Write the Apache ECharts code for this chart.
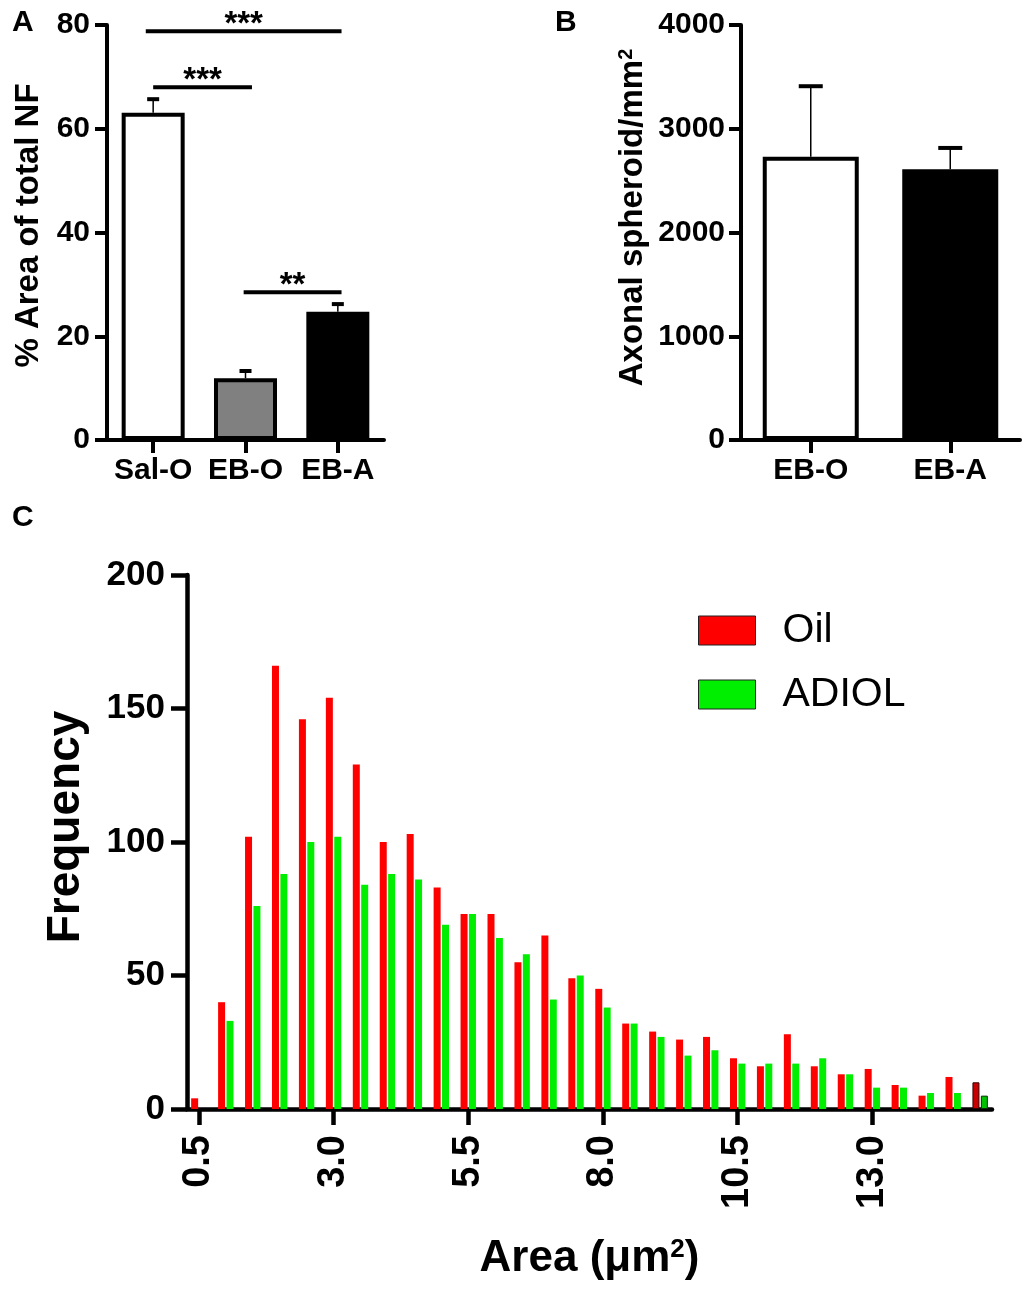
<!DOCTYPE html>
<html>
<head>
    <meta charset="utf-8">
    <title>Axonal damage</title>
    <script src="https://cdn.jsdelivr.net/npm/echarts@6/dist/echarts.min.js"></script>
    <style>
        * {
            margin: 0;
            padding: 0
        }

        #main {
            width: 1032px;
            height: 1300px;
            background: #fff;
        }
    </style>
</head>
<body>
<div id="main"></div>
<script type="text/javascript">
    /*---------- A: % area of total NF ----------*/
    var groupsA = ['Sal-O', 'EB-O', 'EB-A'];
    var meansA = [63.1, 11.9, 24.7];
    var semA = [2.6, 1.4, 1.5];
    // significance bars (position in category units, height in axis units)
    var sigFrom = [-0.08, 0.0, 0.98];
    var sigTo = [2.04, 1.07, 2.04];
    var sigY = [78.8, 68.0, 28.5];
    var sigText = ['***', '***', '**'];

    /*---------- B: axonal spheroids ----------*/
    var groupsB = ['EB-O', 'EB-A'];
    var meansB = [2730, 2610];
    var semB = [680, 205];

    /*---------- C: area histogram ----------*/
    var bins = [0.5, 1.0, 1.5, 2.0, 2.5, 3.0, 3.5, 4.0, 4.5, 5.0, 5.5, 6.0, 6.5, 7.0, 7.5,
        8.0, 8.5, 9.0, 9.5, 10.0, 10.5, 11.0, 11.5, 12.0, 12.5, 13.0, 13.5, 14.0, 14.5, 15.0];
    var oil = [4, 40, 102, 166, 146, 154, 129, 100, 103, 83, 73, 73, 55, 65, 49,
        45, 32, 29, 26, 27, 19, 16, 28, 16, 13, 15, 9, 5, 12, 10];
    var adiol = [0, 33, 76, 88, 100, 102, 84, 88, 86, 69, 73, 64, 58, 41, 50,
        38, 32, 27, 20, 22, 17, 17, 17, 19, 13, 8, 8, 6, 6, 5];
    var xTicksC = [0.5, 3.0, 5.5, 8.0, 10.5, 13.0];

    var FONT = '"Liberation Sans", Arial, sans-serif';
    var colorsA = ['#ffffff', '#808080', '#000000'];
    var colorsB = ['#ffffff', '#000000'];

    function plain(v) {
        return String(v);
    }

    function axisStyle(extra) {
        var o = {
            axisLine: {show: true, onZero: false, lineStyle: {color: '#000', width: 4}},
            axisTick: {show: true, length: 12, lineStyle: {color: '#000', width: 4}},
            axisLabel: {color: '#000', fontFamily: FONT, fontWeight: 'bold', fontSize: 30, formatter: plain},
            splitLine: {show: false},
            nameMoveOverlap: false
        };
        for (var k in extra) o[k] = extra[k];
        return o;
    }

    // error bar drawn from mean up to mean + sem
    function errorBars(capHalf) {
        return function (params, api) {
            var base = api.coord([api.value(0), api.value(1)]);
            var top = api.coord([api.value(0), api.value(1) + api.value(2)]);
            return {
                type: 'group',
                children: [
                    {type: 'line', shape: {x1: base[0], y1: base[1], x2: top[0], y2: top[1]},
                        style: {stroke: '#000', lineWidth: 1.5}},
                    {type: 'line', shape: {x1: top[0] - capHalf, y1: top[1], x2: top[0] + capHalf, y2: top[1]},
                        style: {stroke: '#000', lineWidth: 4}}
                ]
            };
        };
    }

    var barsA = meansA.map(function (v, i) {
        return {value: v, itemStyle: {color: colorsA[i]}};
    });
    var barsB = meansB.map(function (v, i) {
        return {value: v, itemStyle: {color: colorsB[i]}};
    });
    var errA = meansA.map(function (v, i) { return [i, v, semA[i]]; });
    var errB = meansB.map(function (v, i) { return [i, v, semB[i]]; });
    var sigData = sigY.map(function (y, i) { return [sigFrom[i], sigTo[i], y]; });

    var oilData = bins.map(function (b, i) { return [b, oil[i]]; });
    var adiolData = bins.map(function (b, i) { return [b, adiol[i]]; });
    // last bin is drawn darker with an outline in the figure
    var last = bins.length - 1;
    oilData[last] = {value: oilData[last], itemStyle: {color: '#c80000', borderColor: '#300', borderWidth: 1}};
    adiolData[last] = {value: adiolData[last], itemStyle: {color: '#00c000', borderColor: '#030', borderWidth: 1}};

    var panelLabel = {fontFamily: FONT, fontWeight: 'bold', fontSize: 30, color: '#000'};

    var myChart = echarts.init(document.getElementById('main'));
    myChart.setOption({
        animation: false,
        backgroundColor: '#fff',
        title: [
            {text: 'A', left: 12, top: 8, padding: 0, textStyle: panelLabel},
            {text: 'B', left: 555, top: 8, padding: 0, textStyle: panelLabel},
            {text: 'C', left: 12, top: 503, padding: 0, textStyle: panelLabel}
        ],
        legend: {
            data: ['Oil', 'ADIOL'],
            orient: 'vertical',
            left: 693,
            top: 605,
            icon: 'rect',
            itemWidth: 57,
            itemHeight: 29,
            itemGap: 23,
            itemStyle: {borderColor: '#222', borderWidth: 1},
            textStyle: {fontFamily: FONT, fontSize: 41, lineHeight: 40, color: '#000', padding: [0, 0, 0, 22]}
        },
        grid: [
            {left: 107, top: 25, width: 277, height: 415, outerBoundsMode: 'none'},
            {left: 741, top: 25, width: 279, height: 415, outerBoundsMode: 'none'},
            {left: 187, top: 575, width: 805, height: 534, outerBoundsMode: 'none'}
        ],
        xAxis: [
            axisStyle({type: 'category', gridIndex: 0, data: groupsA,
                axisTick: {show: true, alignWithLabel: true, length: 13, lineStyle: {color: '#000', width: 4}},
                axisLabel: {color: '#000', fontFamily: FONT, fontWeight: 'bold', fontSize: 30, margin: 16,
                    interval: 0, hideOverlap: false}}),
            {type: 'value', gridIndex: 0, min: -0.5, max: 2.5, show: false},
            axisStyle({type: 'category', gridIndex: 1, data: groupsB,
                axisTick: {show: true, alignWithLabel: true, length: 13, lineStyle: {color: '#000', width: 4}},
                axisLabel: {color: '#000', fontFamily: FONT, fontWeight: 'bold', fontSize: 30, margin: 16,
                    interval: 0, hideOverlap: false}}),
            {type: 'value', gridIndex: 1, min: -0.5, max: 1.5, show: false},
            axisStyle({type: 'value', gridIndex: 2, min: 0.28, max: 15.22,
                axisTick: {show: true, length: 16, customValues: xTicksC, lineStyle: {color: '#000', width: 4.5}},
                axisLabel: {color: '#000', fontFamily: FONT, fontWeight: 'bold', fontSize: 38, rotate: 90, margin: 26,
                    customValues: xTicksC, formatter: function (v) { return v.toFixed(1); }},
                axisLine: {show: true, onZero: false, lineStyle: {color: '#000', width: 4.5}},
                name: 'Area (\u03bcm{sup|2})',
                nameLocation: 'middle',
                nameGap: 128,
                nameTextStyle: {color: '#000', fontFamily: FONT, fontWeight: 'bold', fontSize: 44,
                    rich: {sup: {fontFamily: FONT, fontWeight: 'bold', fontSize: 26, verticalAlign: 'top', color: '#000'}}}})
        ],
        yAxis: [
            axisStyle({type: 'value', gridIndex: 0, min: 0, max: 80, interval: 20,
                axisLabel: {color: '#000', fontFamily: FONT, fontWeight: 'bold', fontSize: 30, margin: 17, formatter: plain},
                name: '% Area of total NF', nameLocation: 'middle', nameGap: 62,
                nameTextStyle: {color: '#000', fontFamily: FONT, fontWeight: 'bold', fontSize: 33, padding: [0, 0, 0, 14]}}),
            axisStyle({type: 'value', gridIndex: 1, min: 0, max: 4000, interval: 1000,
                axisLabel: {color: '#000', fontFamily: FONT, fontWeight: 'bold', fontSize: 30, margin: 16, formatter: plain},
                name: 'Axonal spheroid/mm{sup|2}', nameLocation: 'middle', nameGap: 92,
                nameTextStyle: {color: '#000', fontFamily: FONT, fontWeight: 'bold', fontSize: 33, padding: [0, 0, 0, 30],
                    rich: {sup: {fontFamily: FONT, fontWeight: 'bold', fontSize: 20, verticalAlign: 'top', color: '#000'}}}}),
            axisStyle({type: 'value', gridIndex: 2, min: 0, max: 200, interval: 50,
                axisTick: {show: true, length: 16, lineStyle: {color: '#000', width: 4.5}},
                axisLine: {show: true, onZero: false, lineStyle: {color: '#000', width: 4.5}},
                axisLabel: {color: '#000', fontFamily: FONT, fontWeight: 'bold', fontSize: 35, margin: 22, formatter: plain},
                name: 'Frequency', nameLocation: 'middle', nameGap: 98,
                nameTextStyle: {color: '#000', fontFamily: FONT, fontWeight: 'bold', fontSize: 46, padding: [0, 0, 0, 30]}})
        ],
        series: [
            {
                name: 'areaNF', type: 'bar', xAxisIndex: 0, yAxisIndex: 0, barWidth: 63,
                itemStyle: {borderColor: '#000', borderWidth: 4},
                data: barsA
            },
            {
                type: 'custom', xAxisIndex: 1, yAxisIndex: 0, z: 5,
                renderItem: errorBars(6), data: errA
            },
            {
                type: 'custom', xAxisIndex: 1, yAxisIndex: 0, z: 5,
                renderItem: function (params, api) {
                    var a = api.coord([api.value(0), api.value(2)]);
                    var b = api.coord([api.value(1), api.value(2)]);
                    return {
                        type: 'group',
                        children: [
                            {type: 'line', shape: {x1: a[0], y1: a[1], x2: b[0], y2: b[1]},
                                style: {stroke: '#000', lineWidth: 4}},
                            {type: 'text', x: (a[0] + b[0]) / 2, y: a[1] + 10,
                                style: {text: sigText[params.dataIndex], fill: '#000',
                                    font: 'bold 33px ' + FONT, align: 'center', verticalAlign: 'bottom'}}
                        ]
                    };
                },
                data: sigData
            },
            {
                name: 'spheroid', type: 'bar', xAxisIndex: 2, yAxisIndex: 1, barWidth: 96,
                itemStyle: {borderColor: '#000', borderWidth: 4},
                data: barsB
            },
            {
                type: 'custom', xAxisIndex: 3, yAxisIndex: 1, z: 5,
                renderItem: errorBars(12), data: errB
            },
            {
                name: 'Oil', type: 'bar', xAxisIndex: 4, yAxisIndex: 2, barWidth: 7, barGap: '20%',
                itemStyle: {color: '#ff0000'},
                data: oilData
            },
            {
                name: 'ADIOL', type: 'bar', xAxisIndex: 4, yAxisIndex: 2, barWidth: 7, barGap: '20%',
                itemStyle: {color: '#00ee00'},
                data: adiolData
            }
        ]
    });
</script>
</body>
</html>
